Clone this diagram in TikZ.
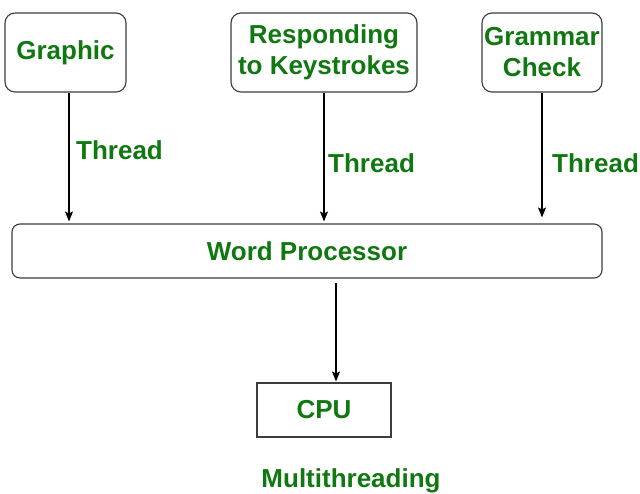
\documentclass[tikz,border=0pt]{standalone}
\usepackage{fontspec}
\setmainfont{Liberation Sans}
\usetikzlibrary{arrows.meta}
\definecolor{gfg}{RGB}{16,120,16}
\definecolor{edge}{RGB}{60,60,60}
\begin{document}
\begin{tikzpicture}[x=1pt,y=-1pt,
  lbl/.style={text=gfg,font=\fontsize{26}{31}\selectfont\bfseries,inner sep=0pt},
  rbox/.style={draw=edge,line width=1.1pt,rounded corners=10pt,fill=white,align=center,inner sep=0pt,text=gfg,font=\fontsize{26}{31}\selectfont\bfseries},
  sbox/.style={draw=edge,line width=1.1pt,fill=white,inner sep=0pt,text=gfg,font=\fontsize{26}{31}\selectfont\bfseries},
  arr/.style={draw=black,line width=1.1pt,-{Stealth[length=10pt,width=8pt,inset=2pt]}}]
\useasboundingbox (0,0) rectangle (640,493);
\node[rbox,minimum width=121pt,minimum height=79pt] (g) at (65.5,52.5) {Graphic};
\node[rbox,minimum width=186pt,minimum height=79pt] (r) at (324,52.5) {Responding\\to Keystrokes};
\node[rbox,minimum width=120pt,minimum height=79pt] (c) at (542,52.5) {Grammar\\Check};
\node[rbox,rounded corners=8pt,minimum width=590pt,minimum height=54pt] (wp) at (307,251) {Word Processor};
\node[sbox,minimum width=134pt,minimum height=54pt] (cpu) at (324,410) {CPU};
\node[lbl,anchor=west] (t1) at (76,150) {Thread};
\node[lbl,anchor=west] (t2) at (328,163) {Thread};
\node[lbl,anchor=west] (t3) at (552,163) {Thread};
\node[lbl] (mt) at (351,481) {Multithreading};
\draw[arr,shorten >=2pt] (g.south -| 69,0) -- (wp.north -| 69,0);
\draw[arr,shorten >=2pt] (r.south) -- (wp.north -| r.south);
\draw[arr,shorten >=6pt] (c.south) -- (wp.north -| c.south);
\draw[arr,shorten <=4pt,shorten >=1pt] (wp.south -| 336,0) -- (cpu.north -| 336,0);
\end{tikzpicture}
\end{document}
